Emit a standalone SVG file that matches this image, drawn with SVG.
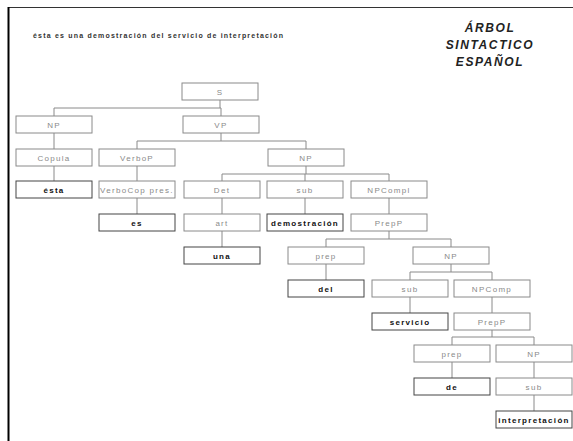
<svg xmlns="http://www.w3.org/2000/svg" width="573" height="441" viewBox="0 0 573 441">
<style>
.box rect{fill:#fff;stroke:#8a8a8a;stroke-width:1}
.box text{font-family:"Liberation Sans",Arial,sans-serif;font-size:8px;fill:#8a8a8a;text-anchor:middle;letter-spacing:1.3px}
.leaf rect{stroke:#444}
.leaf text{fill:#111;font-weight:bold}
.conn path{fill:none;stroke:#8a8a8a;stroke-width:1}
.title{font-family:"Liberation Sans",Arial,sans-serif;font-size:12px;font-weight:bold;font-style:italic;fill:#222;text-anchor:middle;letter-spacing:1.6px}
</style>
<rect x="0" y="0" width="573" height="441" fill="#fff"/>
<line x1="8" y1="7.5" x2="573" y2="7.5" stroke="#333" stroke-width="1"/>
<line x1="8.5" y1="7" x2="8.5" y2="441" stroke="#000" stroke-width="2"/>
<text x="33" y="38" font-family="'Liberation Sans',Arial,sans-serif" font-size="7" font-weight="bold" fill="#333" textLength="250" lengthAdjust="spacing">ésta es una demostración del servicio de interpretación</text>
<g id="title">
<text class="title" x="490" y="32">ÁRBOL</text>
<text class="title" x="490" y="49">SINTACTICO</text>
<text class="title" x="490" y="66">ESPAÑOL</text>
</g>
<g class="conn" id="connectors">
<path d="M220 100V108M54 108H221M54 108V116M221 108V116"/>
<path d="M54 133V149M54 166V181"/>
<path d="M221 133V141M137 141H306M137 141V149M306 141V149"/>
<path d="M137 166V181M137 198V214"/>
<path d="M306 166V174M222 174H389M222 174V181M305 174V181M389 174V181"/>
<path d="M222 198V214M222 231V247M305 198V214M389 198V214"/>
<path d="M389 231V239M326 239H451M326 239V247M451 239V247"/>
<path d="M326 264V280"/>
<path d="M451 264V272M410 272H492M410 272V280M492 272V280"/>
<path d="M410 297V313M492 297V313"/>
<path d="M492 330V337M452 337H534M452 337V345M534 337V345"/>
<path d="M452 362V378M534 362V378M534 395V411"/>
</g>
<g id="n_S" class="box"><rect x="182" y="83" width="76" height="17"/><text x="220" y="94.5">S</text></g>
<g id="n_NP1" class="box"><rect x="16" y="116" width="76" height="17"/><text x="54" y="127.5">NP</text></g>
<g id="n_VP" class="box"><rect x="183" y="116" width="76" height="17"/><text x="221" y="127.5">VP</text></g>
<g id="n_Copula" class="box"><rect x="16" y="149" width="76" height="17"/><text x="54" y="160.5">Copula</text></g>
<g id="n_VerboP" class="box"><rect x="99" y="149" width="76" height="17"/><text x="137" y="160.5">VerboP</text></g>
<g id="n_NP2" class="box"><rect x="268" y="149" width="76" height="17"/><text x="306" y="160.5">NP</text></g>
<g id="n_esta" class="box leaf"><rect x="16" y="181" width="76" height="17"/><text x="54" y="192.5">ésta</text></g>
<g id="n_VerboCop" class="box"><rect x="99" y="181" width="76" height="17"/><text x="137" y="192.5">VerboCop pres.</text></g>
<g id="n_Det" class="box"><rect x="184" y="181" width="76" height="17"/><text x="222" y="192.5">Det</text></g>
<g id="n_sub1" class="box"><rect x="267" y="181" width="76" height="17"/><text x="305" y="192.5">sub</text></g>
<g id="n_NPCompl" class="box"><rect x="351" y="181" width="76" height="17"/><text x="389" y="192.5">NPCompl</text></g>
<g id="n_es" class="box leaf"><rect x="99" y="214" width="76" height="17"/><text x="137" y="225.5">es</text></g>
<g id="n_art" class="box"><rect x="184" y="214" width="76" height="17"/><text x="222" y="225.5">art</text></g>
<g id="n_demostracion" class="box leaf"><rect x="267" y="214" width="76" height="17"/><text x="305" y="225.5">demostración</text></g>
<g id="n_PrepP1" class="box"><rect x="351" y="214" width="76" height="17"/><text x="389" y="225.5">PrepP</text></g>
<g id="n_una" class="box leaf"><rect x="184" y="247" width="76" height="17"/><text x="222" y="258.5">una</text></g>
<g id="n_prep1" class="box"><rect x="288" y="247" width="76" height="17"/><text x="326" y="258.5">prep</text></g>
<g id="n_NP3" class="box"><rect x="413" y="247" width="76" height="17"/><text x="451" y="258.5">NP</text></g>
<g id="n_del" class="box leaf"><rect x="288" y="280" width="76" height="17"/><text x="326" y="291.5">del</text></g>
<g id="n_sub2" class="box"><rect x="372" y="280" width="76" height="17"/><text x="410" y="291.5">sub</text></g>
<g id="n_NPComp" class="box"><rect x="454" y="280" width="76" height="17"/><text x="492" y="291.5">NPComp</text></g>
<g id="n_servicio" class="box leaf"><rect x="372" y="313" width="76" height="17"/><text x="410" y="324.5">servicio</text></g>
<g id="n_PrepP2" class="box"><rect x="454" y="313" width="76" height="17"/><text x="492" y="324.5">PrepP</text></g>
<g id="n_prep2" class="box"><rect x="414" y="345" width="76" height="17"/><text x="452" y="356.5">prep</text></g>
<g id="n_NP4" class="box"><rect x="496" y="345" width="76" height="17"/><text x="534" y="356.5">NP</text></g>
<g id="n_de" class="box leaf"><rect x="414" y="378" width="76" height="17"/><text x="452" y="389.5">de</text></g>
<g id="n_sub3" class="box"><rect x="496" y="378" width="76" height="17"/><text x="534" y="389.5">sub</text></g>
<g id="n_interpretacion" class="box leaf"><rect x="496" y="411" width="76" height="17"/><text x="534" y="422.5">interpretación</text></g>
</svg>
